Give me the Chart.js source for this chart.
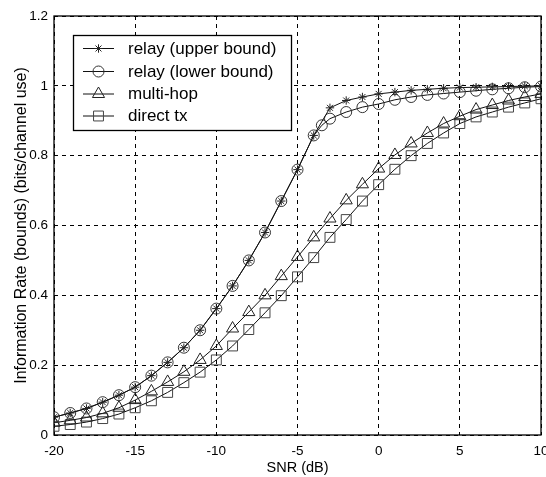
<!DOCTYPE html>
<html>
<head>
<meta charset="utf-8">
<script src="https://cdn.jsdelivr.net/npm/chart.js@4/dist/chart.umd.min.js"></script>
<style>
  html, body { margin: 0; padding: 0; background: #fff; overflow: hidden; width: 546px; height: 477px; }
  #wrap { width: 560px; height: 477px; }
</style>
</head>
<body>
<div id="wrap"><canvas id="c" width="560" height="477"></canvas></div>
<script>
// ---- data ----
const snrDb = [-20,-19,-18,-17,-16,-15,-14,-13,-12,-11,-10,-9,-8,-7,-6,-5,-4,-3,-2,-1,0,1,2,3,4,5,6,7,8,9,10];

const relayUpper = [0.051,0.063,0.076,0.094,0.114,0.137,0.170,0.208,0.250,0.300,0.362,0.427,0.500,0.580,0.670,0.760,0.858,
                    0.937,0.958,0.968,0.977,0.982,0.987,0.990,0.993,0.995,0.996,0.997,0.998,0.999,1.000];

const relayLowerSnr = [-20,-19,-18,-17,-16,-15,-14,-13,-12,-11,-10,-9,-8,-7,-6,-5,-4,-3.5,-3,-2,-1,0,1,2,3,4,5,6,7,8,9,10];
const relayLower = [0.051,0.063,0.076,0.094,0.114,0.137,0.170,0.208,0.250,0.300,0.362,0.427,0.500,0.580,0.670,0.760,0.858,0.887,
                    0.906,0.925,0.939,0.948,0.960,0.968,0.974,0.978,0.982,0.986,0.990,0.993,0.996,0.998];

const multiHop = [0.035,0.042,0.050,0.062,0.078,0.100,0.125,0.152,0.181,0.215,0.255,0.305,0.352,0.400,0.455,0.510,0.566,
                  0.620,0.672,0.718,0.763,0.802,0.835,0.865,0.892,0.913,0.932,0.945,0.958,0.968,0.977];

const directTx = [0.025,0.030,0.037,0.047,0.060,0.078,0.098,0.122,0.150,0.180,0.215,0.255,0.302,0.350,0.399,0.453,0.508,
                  0.566,0.617,0.670,0.717,0.761,0.800,0.835,0.865,0.892,0.911,0.925,0.939,0.951,0.963];

const seriesLabels = ['relay (upper bound)', 'relay (lower bound)', 'multi-hop', 'direct tx'];
const xTicks = [-20, -15, -10, -5, 0, 5, 10];
const yTicks = [0, 0.2, 0.4, 0.6, 0.8, 1, 1.2];
const xTitle = 'SNR (dB)';
const yTitle = 'Information Rate (bounds) (bits/channel use)';

// ---- build ----
const pts = (xs, ys) => xs.map((x, i) => ({ x: x, y: ys[i] }));
const FONT = '"Liberation Sans", Arial, Helvetica, sans-serif';

function ds(label, data, style, radius, color) {
  return {
    label: label,
    data: data,
    borderColor: '#111',
    borderWidth: 1,
    pointStyle: style,
    pointRadius: radius,
    pointHoverRadius: radius,
    pointBorderColor: color,
    pointBorderWidth: 1,
    pointBackgroundColor: 'rgba(0,0,0,0)',
    backgroundColor: 'rgba(0,0,0,0)',
    tension: 0,
    fill: false
  };
}

const datasets = [
  ds(seriesLabels[0], pts(snrDb, relayUpper), 'star', 4.2, '#222'),
  ds(seriesLabels[1], pts(relayLowerSnr, relayLower), 'circle', 5.5, '#333'),
  ds(seriesLabels[2], pts(snrDb, multiHop), 'triangle', 7, '#222'),
  ds(seriesLabels[3], pts(snrDb, directTx), 'rect', 7, '#444')
];

const framePlugin = {
  id: 'frame',
  afterDatasetsDraw(chart) {
    const { ctx, chartArea: a } = chart;
    ctx.save();
    ctx.strokeStyle = '#000';
    ctx.lineWidth = 1.3;
    ctx.setLineDash([]);
    ctx.strokeRect(a.left, a.top, a.right - a.left, a.bottom - a.top);

    // legend box
    const bx = 73.5, by = 35.5, bw = 218, bh = 95;
    ctx.fillStyle = '#fff';
    ctx.fillRect(bx, by, bw, bh);
    ctx.lineWidth = 1.3;
    ctx.strokeRect(bx, by, bw, bh);
    const rows = [48.5, 71.5, 94, 116];
    chart.data.datasets.forEach((d, i) => {
      const y = rows[i];
      ctx.strokeStyle = '#111';
      ctx.lineWidth = 1;
      ctx.beginPath();
      ctx.moveTo(83, y);
      ctx.lineTo(114, y);
      ctx.stroke();
      ctx.fillStyle = 'rgba(0,0,0,0)';
      ctx.strokeStyle = d.pointBorderColor;
      ctx.lineWidth = 1;
      Chart.helpers.drawPoint(ctx, {
        pointStyle: d.pointStyle, radius: d.pointRadius, rotation: 0, borderWidth: 1
      }, 98.5, y);
      ctx.font = '17px ' + FONT;
      ctx.textBaseline = 'middle';
      ctx.textAlign = 'left';
      ctx.fillStyle = '#000';
      ctx.fillText(d.label, 128, y + 0.5);
    });
    ctx.restore();
  }
};

new Chart(document.getElementById('c'), {
  type: 'line',
  data: { datasets: datasets },
  plugins: [framePlugin],
  options: {
    responsive: false,
    animation: false,
    devicePixelRatio: 1,
    layout: { padding: { left: 0, top: 16, right: 19, bottom: 0 } },
    plugins: { legend: { display: false }, tooltip: { enabled: false } },
    scales: {
      x: {
        type: 'linear',
        min: -20, max: 10,
        afterBuildTicks: (s) => { s.ticks = xTicks.map(v => ({ value: v })); },
        afterFit: (s) => { s.height = 42; },
        grid: { color: '#000', lineWidth: 1, drawTicks: false },
        border: { display: false, dash: [4, 4] },
        ticks: { color: '#000', font: { family: FONT, size: 13.5 }, padding: 8, maxRotation: 0,
                 callback: (v) => String(v) },
        title: { display: true, text: xTitle, color: '#000', font: { family: FONT, size: 14.5 }, padding: { top: 0, bottom: 0 } }
      },
      y: {
        type: 'linear',
        min: 0, max: 1.2,
        afterBuildTicks: (s) => { s.ticks = yTicks.map(v => ({ value: v })); },
        afterFit: (s) => { s.width = 54; },
        grid: { color: '#000', lineWidth: 1, drawTicks: false },
        border: { display: false, dash: [4, 4] },
        ticks: { color: '#000', font: { family: FONT, size: 13.5 }, padding: 6,
                 callback: (v) => String(parseFloat(Number(v).toFixed(1))) },
        title: { display: true, text: yTitle, color: '#000', font: { family: FONT, size: 16 }, padding: { top: 12, bottom: 0 } }
      }
    }
  }
});
</script>
</body>
</html>
